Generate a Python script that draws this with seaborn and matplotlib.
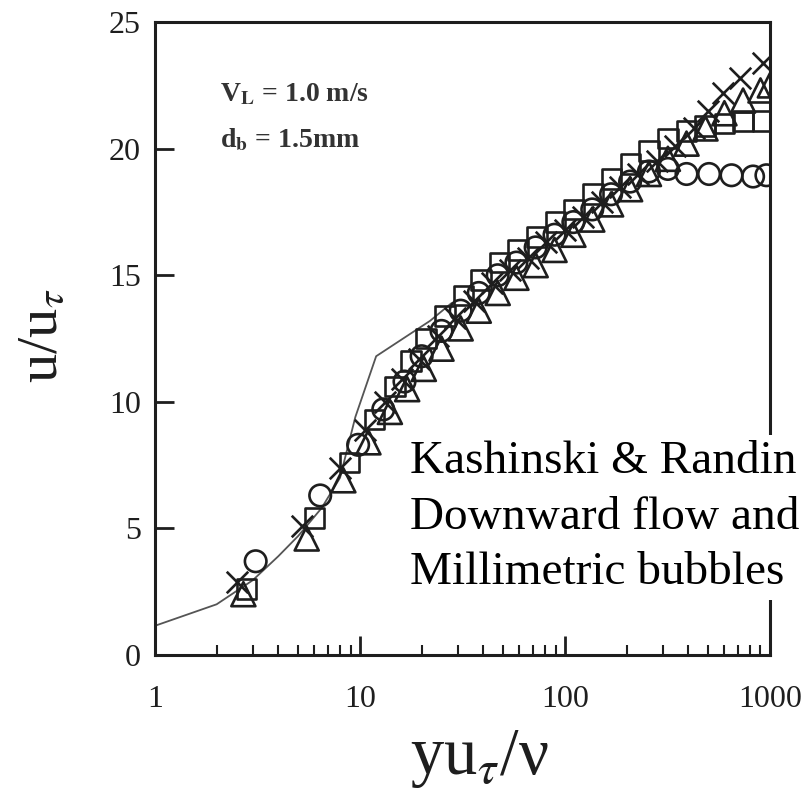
import numpy as np
import pandas as pd
import seaborn as sns
from matplotlib import pyplot as plt
from matplotlib.ticker import LogLocator, NullFormatter

### Values (y+ , u+) ###
circ_x = [3.1, 6.4, 9.8, 13, 16.5, 20, 25, 31, 38, 47, 58, 72, 89, 110, 136, 168, 208, 257, 318, 392, 505, 650, 828, 962]
circ_y = [3.7, 6.3, 8.3, 9.7, 10.8, 11.8, 12.8, 13.6, 14.3, 15.0, 15.5, 16.1, 16.6, 17.1, 17.6, 18.2, 18.7, 19.1, 19.2, 19.0, 19.0, 18.95, 18.9, 18.95]

sq_x = [2.8, 6.0, 8.9, 11.8, 14.8, 17.8, 21, 26, 32, 39, 48, 59, 73, 90, 111, 137, 169, 209, 258, 318, 392, 484, 600, 740, 920]
sq_y = [2.6, 5.4, 7.6, 9.3, 10.6, 11.6, 12.5, 13.4, 14.2, 14.8, 15.5, 16.0, 16.5, 17.1, 17.6, 18.2, 18.8, 19.4, 19.9, 20.4, 20.7, 20.9, 21.0, 21.1, 21.1]

tri_x = [2.7, 5.5, 8.3, 11.0, 14, 17, 20.5, 25, 31, 38, 47, 58, 72, 89, 110, 136, 168, 208, 257, 318, 392, 485, 600, 740, 900, 1000]
tri_y = [2.4, 4.6, 6.9, 8.4, 9.6, 10.5, 11.3, 12.1, 12.9, 13.6, 14.3, 14.9, 15.4, 16.0, 16.6, 17.2, 17.8, 18.4, 19.0, 19.6, 20.2, 20.8, 21.4, 21.9, 22.3, 22.5]

crs_x = [2.5, 5.2, 8.0, 10.6, 13.3, 16, 19.5, 24, 29, 36, 44, 54, 66, 81, 100, 123, 151, 186, 228, 281, 345, 425, 500, 590, 712, 930]
crs_y = [2.9, 5.1, 7.4, 8.9, 10.0, 10.9, 11.7, 12.6, 13.3, 14.0, 14.7, 15.2, 15.7, 16.3, 16.8, 17.3, 17.9, 18.5, 19.0, 19.5, 20.1, 20.8, 21.5, 22.2, 22.8, 23.4]

# single phase reference curve
line_x = [1, 2, 3, 4, 5, 6.5, 8, 9.5, 12, 22, 28]
line_y = [1.15, 2.0, 2.95, 3.9, 4.7, 5.8, 7.0, 9.4, 11.8, 13.2, 13.9]

x_ticks = [1, 10, 100, 1000]
x_ticklabels = ['1', '10', '100', '1000']
y_ticks = [0, 5, 10, 15, 20, 25]

sns.set_theme(style='ticks')
plt.rcParams['font.family'] = ['Liberation Serif', 'DejaVu Serif']
plt.rcParams['mathtext.fontset'] = 'stix'

ink = '#1e1e1e'

fig = plt.figure(figsize=(8.07, 7.9), dpi=100)
ax = fig.add_axes([0.192, 0.171, 0.762, 0.801])
ax.set_xscale('log')

sns.lineplot(x=line_x, y=line_y, ax=ax, color='#555555', lw=1.3, sort=False, zorder=2)

### open markers ###
for xs, ys, mk, size in [(circ_x, circ_y, 'o', 240), (sq_x, sq_y, 's', 200), (tri_x, tri_y, '^', 300)]:
    sns.scatterplot(x=xs, y=ys, ax=ax, marker=mk, s=size, facecolor='none',
                    edgecolor=ink, linewidth=1.9, zorder=3)
sns.scatterplot(x=crs_x, y=crs_y, ax=ax, marker='x', s=240, color=ink, linewidth=1.9, zorder=3)

ax.set_xlim(1, 1000)
ax.set_ylim(0, 25)
ax.set_xticks(x_ticks)
ax.set_xticklabels(x_ticklabels)
ax.xaxis.set_minor_locator(LogLocator(base=10, subs=range(2, 10)))
ax.xaxis.set_minor_formatter(NullFormatter())
ax.set_yticks(y_ticks)

ax.tick_params(which='major', direction='in', length=14, width=2, colors=ink, labelsize=23)
ax.tick_params(which='minor', direction='in', length=7, width=1.5, colors=ink)
ax.tick_params(axis='x', which='major', pad=22)
ax.tick_params(axis='y', which='major', pad=10)
ax.tick_params(top=False, right=False, which='both')
for sp in ax.spines.values():
    sp.set_linewidth(2.2)
    sp.set_color(ink)

ax.set_xlabel(r'yu$_{\tau}$/ν', fontsize=48, color=ink)
ax.set_ylabel(r'u/u$_{\tau}$', fontsize=42, color=ink)
ax.xaxis.set_label_coords(0.528, -0.115)
ax.yaxis.set_label_coords(-0.14, 0.505)

### annotations ###
ax.text(0.106, 0.885, r'V$_{\mathbf{L}}$ = 1.0 m/s', transform=ax.transAxes, fontsize=20,
        fontweight='bold', color='#333333', va='center')
ax.text(0.106, 0.814, r'd$_{\mathbf{b}}$ = 1.5mm', transform=ax.transAxes, fontsize=20,
        fontweight='bold', color='#333333', va='center')

fig.text(0.508, 0.442, 'Kashinski & Randin\nDownward flow and\nMillimetric bubbles',
         fontsize=34, va='top', ha='left', linespacing=1.4, color='black',
         bbox=dict(facecolor='white', edgecolor='none', pad=4))

plt.savefig('out.png', dpi=100)
